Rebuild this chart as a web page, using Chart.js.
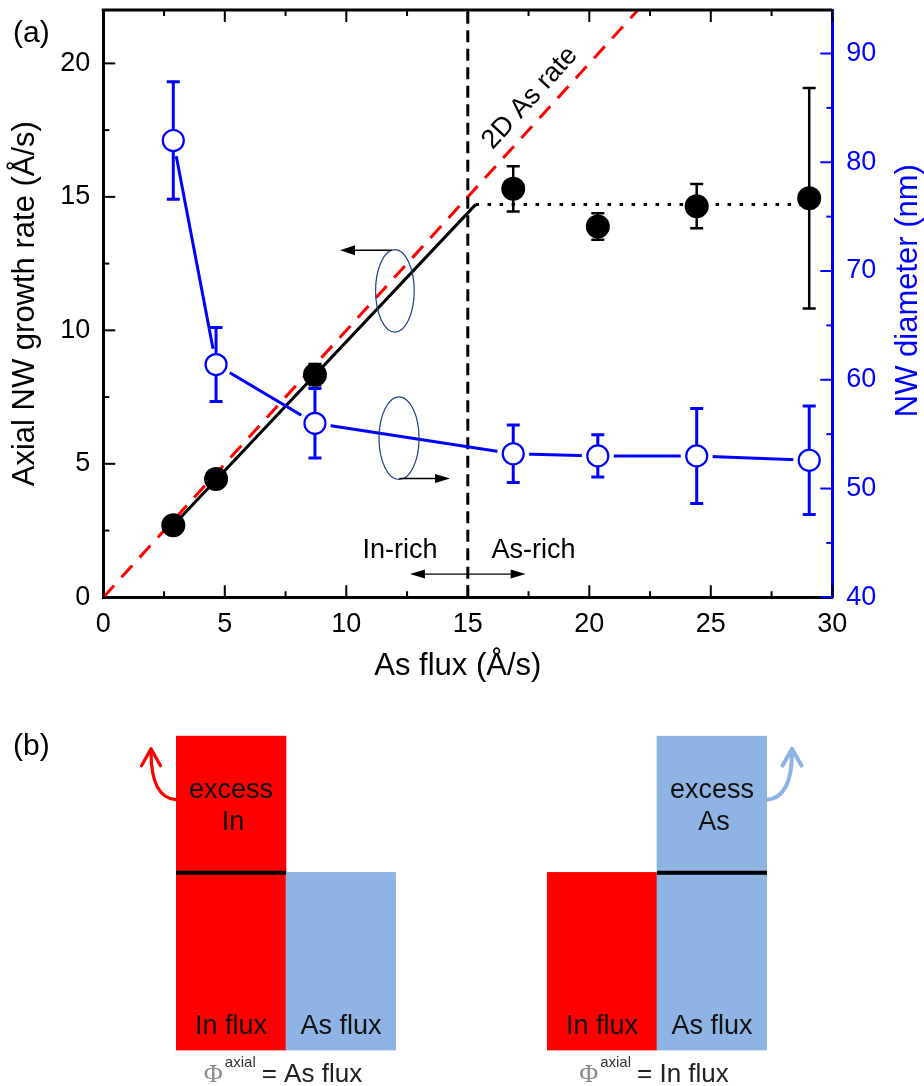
<!DOCTYPE html>
<html lang="en">
<head>
<meta charset="utf-8">
<title>Axial NW growth rate and diameter vs As flux</title>
<script src="https://cdn.jsdelivr.net/npm/chart.js@4.4.1/dist/chart.umd.min.js"></script>
<style>
  html, body { margin: 0; padding: 0; background: #ffffff; }
  #figure { position: relative; width: 924px; height: 1086px; overflow: hidden; }
  canvas { position: absolute; }
  .panel-tag { position: absolute; left: 13px; font: 30px "Liberation Sans", Arial, sans-serif; color: #000; line-height: 1; }
</style>
</head>
<body>
<div id="figure">
  <canvas id="growthChart" width="924" height="700" style="left:0;top:0;"></canvas>
  <canvas id="inRichChart" width="462" height="386" style="left:0;top:700px;"></canvas>
  <canvas id="asRichChart" width="462" height="386" style="left:462px;top:700px;"></canvas>
  <div class="panel-tag" style="top:17px;">(a)</div>
  <div class="panel-tag" style="top:730px;">(b)</div>
</div>

<script>
// As flux (Å/s) of each sample
const asFlux = [2.88, 4.64, 8.71, 16.87, 20.35, 24.42, 29.05];

// axial growth rate (Å/s), left axis
const growthRate = [2.70, 4.43, 8.34, 15.30, 13.89, 14.65, 14.95];
const growthRateError = [0.2, 0.2, 0.4, 0.85, 0.5, 0.83, 4.13];

// NW diameter (nm), right axis
const nwDiameter = [82.0, 61.4, 56.0, 53.2, 53.0, 53.0, 52.6];
const nwDiameterError = [5.4, 3.4, 3.2, 2.65, 1.95, 4.37, 4.98];

// linear growth below stoichiometry, plateau above
const fitFlux = [2.88, 15.32];
const fitRate = [2.70, 14.71];
const plateauFlux = [15.32, 29.05];
const plateauRate = [14.71, 14.71];

// 2D As-limited rate: rate equals flux
const asRateFlux = [0, 22];
const boundaryFlux = 15;

const fluxRange = [0, 30];
const rateRange = [0, 22];
const diameterRange = [40, 94];
const fluxStep = 5;
const rateStep = 5;
const diameterStep = 10;

// (b) flux balance sketches
const fluxLabels = ["In flux", "As flux"];
const inRichFlux = [17.7, 10];
const asRichFlux = [10, 17.7];

const FONT = '"Liberation Sans", Arial, Helvetica, sans-serif';
const BLUE = "#0000ff";
const RED = "#ff0000";
const fluxColors = ["#ff0000", "#8db4e2"];

Chart.defaults.font.family = FONT;
Chart.defaults.color = "#000";

function toPoints(xs, ys) {
  return xs.map((x, i) => ({ x: x, y: ys[i] }));
}

function drawArrow(ctx, x1, y1, x2, y2, headLength, headWidth) {
  const angle = Math.atan2(y2 - y1, x2 - x1);
  const bx = x2 - headLength * Math.cos(angle);
  const by = y2 - headLength * Math.sin(angle);
  const hx = headWidth / 2 * Math.sin(angle);
  const hy = headWidth / 2 * Math.cos(angle);

  ctx.beginPath();
  ctx.moveTo(x1, y1);
  ctx.lineTo(bx, by);
  ctx.stroke();

  ctx.beginPath();
  ctx.moveTo(x2, y2);
  ctx.lineTo(bx + hx, by - hy);
  ctx.lineTo(bx - hx, by + hy);
  ctx.closePath();
  ctx.fill();
}

// major ticks every step, minor ticks halfway
function tickValues(scale, step) {
  const values = [];
  for (let i = 0; scale.min + i * step / 2 <= scale.max + 1e-9; i++) {
    values.push([scale.min + i * step / 2, i % 2 === 0]);
  }
  return values;
}

// fixed axis sizes so the plot frame lands where it should
function fixWidth(width) {
  return scale => {
    scale.width = width;
    scale.paddingTop = 0;
    scale.paddingBottom = 0;
  };
}

function fixHeight(height) {
  return scale => {
    scale.height = height;
    scale.paddingLeft = 0;
    scale.paddingRight = 0;
  };
}

const errorBars = {
  id: "errorBars",
  beforeDatasetDraw(chart, args) {
    const dataset = chart.data.datasets[args.index];
    if (!dataset.errors) return;

    const ctx = chart.ctx;
    const yScale = chart.scales[args.meta.yAxisID];

    ctx.save();
    ctx.strokeStyle = dataset.errorColor;
    ctx.lineWidth = dataset.errorWidth;

    dataset.data.forEach((point, i) => {
      const err = dataset.errors[i];
      const px = args.meta.data[i].x;
      const top = yScale.getPixelForValue(point.y + err);
      const bottom = yScale.getPixelForValue(point.y - err);

      ctx.beginPath();
      ctx.moveTo(px, top);
      ctx.lineTo(px, bottom);
      ctx.moveTo(px - 6.5, top);
      ctx.lineTo(px + 6.5, top);
      ctx.moveTo(px - 6.5, bottom);
      ctx.lineTo(px + 6.5, bottom);
      ctx.stroke();
    });

    ctx.restore();
  }
};

// inward ticks on all four sides plus the top edge of the frame
const axisFrame = {
  id: "axisFrame",
  afterDraw(chart) {
    const { ctx, chartArea: area, scales } = chart;

    ctx.save();
    ctx.lineWidth = 2;
    ctx.strokeStyle = "#000";

    tickValues(scales.x, fluxStep).forEach(([v, major]) => {
      const p = scales.x.getPixelForValue(v);
      const len = major ? 12 : 6;
      ctx.beginPath();
      ctx.moveTo(p, area.bottom);
      ctx.lineTo(p, area.bottom - len);
      ctx.moveTo(p, area.top);
      ctx.lineTo(p, area.top + len);
      ctx.stroke();
    });

    tickValues(scales.y, rateStep).forEach(([v, major]) => {
      const p = scales.y.getPixelForValue(v);
      ctx.beginPath();
      ctx.moveTo(area.left, p);
      ctx.lineTo(area.left + (major ? 12 : 6), p);
      ctx.stroke();
    });

    ctx.strokeStyle = BLUE;
    tickValues(scales.y2, diameterStep).forEach(([v, major]) => {
      const p = scales.y2.getPixelForValue(v);
      ctx.beginPath();
      ctx.moveTo(area.right, p);
      ctx.lineTo(area.right - (major ? 12 : 6), p);
      ctx.stroke();
    });

    ctx.strokeStyle = "#000";
    ctx.lineWidth = 3;
    ctx.beginPath();
    ctx.moveTo(area.left - 1.5, area.top);
    ctx.lineTo(area.right, area.top);
    ctx.stroke();

    ctx.restore();
  }
};

const annotations = {
  id: "annotations",
  afterDatasetsDraw(chart) {
    const { ctx, chartArea: area, scales: { x, y } } = chart;
    const px = v => x.getPixelForValue(v);
    const py = v => y.getPixelForValue(v);

    ctx.save();

    // ellipses marking which curve belongs to which axis
    ctx.strokeStyle = "#1f3c88";
    ctx.lineWidth = 1.2;
    ctx.beginPath();
    ctx.ellipse(px(12.0), py(11.48), 19.3, 41.2, 0, 0, 2 * Math.PI);
    ctx.stroke();
    ctx.beginPath();
    ctx.ellipse(px(12.17), py(5.96), 20, 41.3, 0, 0, 2 * Math.PI);
    ctx.stroke();

    ctx.strokeStyle = "#000";
    ctx.fillStyle = "#000";
    ctx.lineWidth = 1.3;
    drawArrow(ctx, px(11.87), py(13.0), px(9.74), py(13.0), 15, 10);
    drawArrow(ctx, px(12.18), py(4.45), px(14.27), py(4.45), 15, 9);

    // In-rich / As-rich regimes
    drawArrow(ctx, px(boundaryFlux), py(0.87), px(12.62), py(0.87), 15, 9);
    drawArrow(ctx, px(boundaryFlux), py(0.87), px(17.38), py(0.87), 15, 9);

    ctx.font = "27px " + FONT;
    ctx.textAlign = "center";
    ctx.textBaseline = "middle";
    ctx.fillText("In-rich", px(12.21), py(1.77));
    ctx.fillText("As-rich", px(17.7), py(1.77));

    // label along the 2D As rate line
    const slope = Math.atan2(py(0) - py(1), px(1) - px(0));
    ctx.save();
    ctx.translate(px(17.56), py(18.7));
    ctx.rotate(-slope);
    ctx.fillText("2D As rate", 0, 0);
    ctx.restore();

    // bottom axis title
    ctx.font = "31px " + FONT;
    ctx.fillText("As flux (Å/s)", (area.left + area.right) / 2 - 10, area.bottom + 69);

    // right axis title, reading bottom to top
    ctx.save();
    ctx.fillStyle = BLUE;
    ctx.font = "31px " + FONT;
    ctx.translate(area.right + 76, (area.top + area.bottom) / 2 - 13);
    ctx.rotate(-Math.PI / 2);
    ctx.fillText("NW diameter (nm)", 0, 0);
    ctx.restore();

    ctx.restore();
  }
};

function renderGrowthChart() {
  const ctx = document.getElementById("growthChart");

  new Chart(ctx, {
    type: "scatter",
    data: {
      datasets: [
        {
          label: "2D As rate",
          data: toPoints(asRateFlux, asRateFlux),
          showLine: true,
          borderColor: RED,
          borderWidth: 3,
          borderDash: [16, 11],
          pointRadius: 0,
          yAxisID: "y",
          order: 10
        },
        {
          label: "Linear growth",
          data: toPoints(fitFlux, fitRate),
          showLine: true,
          borderColor: "#000",
          borderWidth: 3,
          pointRadius: 0,
          yAxisID: "y",
          order: 9
        },
        {
          label: "Plateau",
          data: toPoints(plateauFlux, plateauRate),
          showLine: true,
          borderColor: "#000",
          borderWidth: 3,
          borderDash: [3.5, 8.5],
          pointRadius: 0,
          yAxisID: "y",
          order: 8
        },
        {
          label: "Stoichiometry",
          data: toPoints([boundaryFlux, boundaryFlux], rateRange),
          showLine: true,
          borderColor: "#000",
          borderWidth: 3,
          borderDash: [12, 6.5],
          pointRadius: 0,
          yAxisID: "y",
          order: 7
        },
        {
          label: "Axial NW growth rate",
          data: toPoints(asFlux, growthRate),
          errors: growthRateError,
          errorColor: "#000",
          errorWidth: 2.5,
          pointRadius: 12,
          pointBackgroundColor: "#000",
          pointBorderWidth: 0,
          yAxisID: "y",
          order: 6
        },
        {
          label: "NW diameter trend",
          data: toPoints(asFlux, nwDiameter),
          showLine: true,
          borderColor: BLUE,
          borderWidth: 3,
          pointRadius: 0,
          yAxisID: "y2",
          order: 5
        },
        {
          // white ring leaves a small gap between line and symbol
          label: "NW diameter gap",
          data: toPoints(asFlux, nwDiameter),
          pointRadius: 16,
          pointBackgroundColor: "#ffffff",
          pointBorderWidth: 0,
          yAxisID: "y2",
          order: 4
        },
        {
          label: "NW diameter",
          data: toPoints(asFlux, nwDiameter),
          errors: nwDiameterError,
          errorColor: BLUE,
          errorWidth: 3,
          pointRadius: 10.5,
          pointBackgroundColor: "#ffffff",
          pointBorderColor: BLUE,
          pointBorderWidth: 2.2,
          yAxisID: "y2",
          order: 3
        }
      ]
    },
    options: {
      responsive: false,
      animation: false,
      layout: {
        autoPadding: false,
        padding: { top: 10, left: 0, right: 0, bottom: 0 }
      },
      plugins: {
        legend: { display: false },
        tooltip: { enabled: false }
      },
      scales: {
        x: {
          type: "linear",
          position: "bottom",
          min: fluxRange[0],
          max: fluxRange[1],
          ticks: { stepSize: fluxStep, includeBounds: false, padding: 11, font: { size: 27 }, color: "#000" },
          grid: { display: false, drawTicks: false },
          border: { display: true, color: "#000", width: 3 },
          title: { display: false, text: "As flux (Å/s)" },
          afterFit: fixHeight(102.7)
        },
        y: {
          type: "linear",
          position: "left",
          min: rateRange[0],
          max: rateRange[1],
          ticks: { stepSize: rateStep, includeBounds: false, padding: 13, font: { size: 27 }, color: "#000" },
          grid: { display: false, drawTicks: false },
          border: { display: true, color: "#000", width: 3 },
          title: { display: true, text: "Axial NW growth rate (Å/s)", font: { size: 31 }, color: "#000", padding: 7 },
          afterFit: fixWidth(103.3)
        },
        y2: {
          type: "linear",
          position: "right",
          min: diameterRange[0],
          max: diameterRange[1],
          ticks: { stepSize: diameterStep, includeBounds: false, padding: 14, font: { size: 27 }, color: BLUE },
          grid: { display: false, drawTicks: false },
          border: { display: true, color: BLUE, width: 3 },
          afterFit: fixWidth(91.7)
        }
      }
    },
    plugins: [errorBars, annotations, axisFrame]
  });
}

function fluxPanelPlugin(excessName, axialName) {
  return {
    id: "fluxPanel",
    afterDatasetsDraw(chart) {
      const ctx = chart.ctx;
      const area = chart.chartArea;
      const matched = chart.getDatasetMeta(0);
      const excess = chart.getDatasetMeta(1);
      const excessData = chart.data.datasets[1].data;

      ctx.save();
      ctx.fillStyle = "#111";
      ctx.font = "27px " + FONT;
      ctx.textAlign = "center";
      ctx.textBaseline = "middle";

      matched.data.forEach((bar, i) => {
        ctx.fillText(chart.data.labels[i], bar.x, area.bottom - 24);
      });

      excess.data.forEach((bar, i) => {
        if (excessData[i] <= 0) return;

        const left = bar.x - bar.width / 2;
        const right = bar.x + bar.width / 2;
        const mid = (bar.y + bar.base) / 2;

        // level of the matched flux
        ctx.strokeStyle = "#000";
        ctx.lineWidth = 4;
        ctx.beginPath();
        ctx.moveTo(left, bar.base);
        ctx.lineTo(right, bar.base);
        ctx.stroke();

        ctx.fillStyle = "#111";
        ctx.fillText("excess", bar.x, mid - 14);
        ctx.fillText(excessName, bar.x + 2, mid + 18);

        // excess species leaving the surface
        const dir = i === 0 ? -1 : 1;
        const edge = dir < 0 ? left : right;
        const ax = edge + dir * 25;
        const color = fluxColors[i];
        ctx.strokeStyle = color;
        ctx.lineWidth = dir < 0 ? 3.2 : 4;
        ctx.lineCap = "round";
        ctx.lineJoin = "round";
        ctx.beginPath();
        ctx.moveTo(edge, bar.y + 64);
        ctx.quadraticCurveTo(ax, bar.y + 62, ax, bar.y + 16);
        ctx.stroke();
        ctx.beginPath();
        ctx.moveTo(ax - 9.5, bar.y + 30);
        ctx.lineTo(ax, bar.y + 13);
        ctx.lineTo(ax + 9.5, bar.y + 30);
        ctx.stroke();
      });

      // Φ^axial = ... caption
      const center = (area.left + area.right) / 2 - 3;
      const baseline = area.bottom + 31.5;
      const rest = "= " + axialName;
      ctx.textAlign = "left";
      ctx.textBaseline = "alphabetic";

      ctx.font = '26px "Liberation Serif", "DejaVu Serif", serif';
      const phiWidth = ctx.measureText("Φ").width;
      ctx.font = "15px " + FONT;
      const supWidth = ctx.measureText("axial").width;
      ctx.font = "26px " + FONT;
      const restWidth = ctx.measureText(rest).width;
      let cx = center - (phiWidth + 2 + supWidth + 6 + restWidth) / 2;

      ctx.fillStyle = "#8a8a8a";
      ctx.font = '26px "Liberation Serif", "DejaVu Serif", serif';
      ctx.fillText("Φ", cx, baseline);
      cx += phiWidth + 2;

      ctx.fillStyle = "#333";
      ctx.font = "15px " + FONT;
      ctx.fillText("axial", cx, baseline - 15);
      cx += supWidth + 6;

      ctx.fillStyle = "#222";
      ctx.font = "26px " + FONT;
      ctx.fillText(rest, cx, baseline);

      ctx.restore();
    }
  };
}

function renderFluxPanel(canvasId, fluxes, excessName, axialName, padding) {
  const ctx = document.getElementById(canvasId);
  const matchedFlux = Math.min(...fluxes);

  new Chart(ctx, {
    type: "bar",
    data: {
      labels: fluxLabels,
      datasets: [
        {
          label: "Matched flux",
          data: fluxes.map(() => matchedFlux),
          backgroundColor: fluxColors,
          borderWidth: 0,
          barPercentage: 1,
          categoryPercentage: 1
        },
        {
          label: "Excess flux",
          data: fluxes.map(v => v - matchedFlux),
          backgroundColor: fluxColors,
          borderWidth: 0,
          barPercentage: 1,
          categoryPercentage: 1
        }
      ]
    },
    options: {
      responsive: false,
      animation: false,
      layout: { padding: padding },
      plugins: {
        legend: { display: false },
        tooltip: { enabled: false }
      },
      scales: {
        x: { stacked: true, display: false },
        y: { stacked: true, display: false, min: 0, max: Math.max(...fluxes) }
      }
    },
    plugins: [fluxPanelPlugin(excessName, axialName)]
  });
}

renderGrowthChart();
renderFluxPanel("inRichChart", inRichFlux, "In", "As flux", { left: 176, right: 66, top: 35.7, bottom: 35.5 });
renderFluxPanel("asRichChart", asRichFlux, "As", "In flux", { left: 85, right: 157, top: 35.7, bottom: 35.5 });
</script>
</body>
</html>
